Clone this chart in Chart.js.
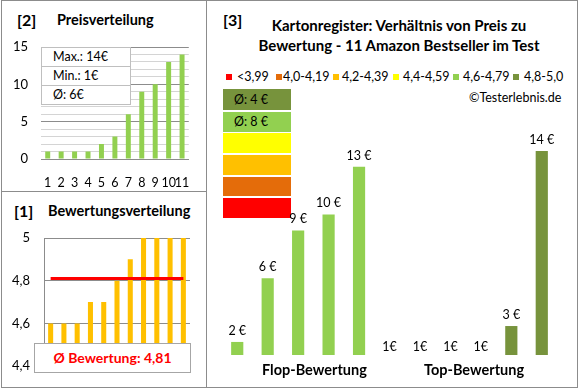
<!DOCTYPE html>
<html>
<head>
<meta charset="utf-8">
<script src="https://cdn.jsdelivr.net/npm/chart.js@4.4.1/dist/chart.umd.min.js"></script>
<style>
  body { margin: 0; width: 580px; height: 390px; background: #fff; font-family: Lato, sans-serif; color: #000; position: relative; overflow: hidden; }
  .abs { position: absolute; white-space: nowrap; }
  canvas { position: absolute; }
  .line { position: absolute; background: #8c8c8c; }
  .title { font-weight: bold; font-size: 14.5px; }
  .nr { font-weight: bold; font-size: 16px; }
  .statbox { position: absolute; left: 41px; top: 47px; width: 88px; background: #fff; border: 1px solid #bfbfbf; font-size: 12.5px; }
  .statbox div { height: 18px; line-height: 18px; padding-left: 11px; border-top: 1px solid #bfbfbf; }
  .statbox div:first-child { border-top: none; }
  .avgbox { position: absolute; left: 34px; top: 343px; width: 155px; height: 28px; line-height: 28px; background: #fff; border: 1px solid #a6a6a6; color: #ff0000; font-weight: bold; font-size: 14px; text-align: center; }
  .leg { position: absolute; top: 70px; font-size: 12.5px; line-height: 14px; white-space: nowrap; }
  .sq { position: absolute; width: 6px; height: 6px; top: 74px; }
  .block { position: absolute; left: 223px; width: 68px; font-size: 12.5px; padding-left: 11px; box-sizing: border-box; }
</style>
</head>
<body>
<!-- frame -->
<div class="line" style="left:1px;top:0;width:577px;height:1px"></div>
<div class="line" style="left:1px;top:387px;width:577px;height:1px"></div>
<div class="line" style="left:1px;top:0;width:1px;height:388px"></div>
<div class="line" style="left:577px;top:0;width:1px;height:388px"></div>
<div class="line" style="left:206px;top:0;width:1px;height:388px"></div>
<div class="line" style="left:1px;top:191px;width:205px;height:1px"></div>

<div class="abs nr" style="left:17px;top:10px">[2]</div>
<div class="abs title" style="left:57px;top:11px">Preisverteilung</div>
<div class="abs nr" style="left:14px;top:201px">[1]</div>
<div class="abs title" style="left:48px;top:202px">Bewertungsverteilung</div>
<div class="abs nr" style="left:223px;top:10px">[3]</div>
<div class="abs title" style="left:222px;width:354px;top:15px;text-align:center;line-height:20px;font-size:15px">Kartonregister: Verhältnis von Preis zu<br>Bewertung - 11 Amazon Bestseller im Test</div>
<div class="abs" style="left:469px;top:90px;font-size:12.5px">©Testerlebnis.de</div>

<div id="legend"></div>
<div id="blocks"></div>

<canvas id="preisChart" width="206" height="192" style="left:0;top:0"></canvas>
<canvas id="bewertungChart" width="206" height="196" style="left:0;top:192px"></canvas>
<canvas id="verhaeltnisChart" width="372" height="389" style="left:206px;top:0"></canvas>

<div class="statbox" id="statbox"></div>
<div class="avgbox" id="avgbox"></div>
<div class="abs title" style="left:262px;width:100px;top:361px;text-align:center">Flop-Bewertung</div>
<div class="abs title" style="left:424px;width:100px;top:361px;text-align:center">Top-Bewertung</div>

<script>
// Preisverteilung
const produktNr = ['1', '2', '3', '4', '5', '6', '7', '8', '9', '10', '11'];
const preise = [1, 1, 1, 1, 2, 3, 6, 9, 10, 13, 14];
const preisStatistik = ['Max.: 14€', 'Min.: 1€', 'Ø: 6€'];

// Bewertungsverteilung
const bewertungen = [4.6, 4.6, 4.6, 4.7, 4.7, 4.8, 4.9, 5, 5, 5, 5];
const bewertungSchnitt = 4.81;

// Verhältnis Preis zu Bewertung
const verhaeltnisPreise = [2, 6, 9, 10, 13, 1, 1, 1, 1, 3, 14];
const verhaeltnisBewertung = [4.6, 4.6, 4.6, 4.7, 4.7, 4.8, 4.9, 5, 5, 5, 5];
const klassen = ['<3,99', '4,0-4,19', '4,2-4,39', '4,4-4,59', '4,6-4,79', '4,8-5,0'];
const klassenGrenzen = [0, 4.0, 4.2, 4.4, 4.6, 4.8];
const schnittTexte = ['Ø: 4 €', 'Ø: 8 €'];

const klassenFarben = ['#ff0000', '#e46c0a', '#ffc000', '#ffff00', '#92d050', '#77933c'];

Chart.defaults.font.family = 'Lato';
Chart.defaults.font.size = 12;
Chart.defaults.color = '#000';
Chart.defaults.animation = false;

const komma = (v, d) => (Math.round(v * Math.pow(10, d)) / Math.pow(10, d)).toString().replace('.', ',');
const farbeFuer = r => {
  let i = 0;
  klassenGrenzen.forEach((g, k) => { if (r >= g - 1e-9) i = k; });
  return klassenFarben[i];
};

// legend row and colour stack (plain html)
const legPos = [[226, 237], [276, 283], [333, 342], [393, 403], [453, 463], [513, 524]];
document.getElementById('legend').innerHTML = klassen.map((k, i) =>
  `<div class="sq" style="left:${legPos[i][0]}px;background:${klassenFarben[i]}"></div>` +
  `<span class="leg" style="left:${legPos[i][1]}px">${k}</span>`).join('');

const blockTops = [89, 112, 133, 155, 177, 198];
const blockHeights = [21, 20, 20, 20, 19, 20];
document.getElementById('blocks').innerHTML = klassenFarben.slice().reverse().map((c, i) =>
  `<div class="block" style="top:${blockTops[i]}px;height:${blockHeights[i]}px;line-height:${blockHeights[i]}px;background:${c}">${schnittTexte[i] || ''}</div>`).join('');

document.getElementById('statbox').innerHTML = preisStatistik.map(t => `<div>${t}</div>`).join('');
document.getElementById('avgbox').textContent = 'Ø Bewertung: ' + komma(bewertungSchnitt, 2);

// [2] Preisverteilung
new Chart(document.getElementById('preisChart'), {
  type: 'bar',
  data: {
    labels: produktNr,
    datasets: [{ data: preise, backgroundColor: '#92d050', categoryPercentage: 1, barPercentage: 0.37 }]
  },
  options: {
    responsive: false,
    layout: { padding: { top: 47, right: 15, bottom: 3, left: 0 } },
    plugins: { legend: { display: false }, tooltip: { enabled: false } },
    scales: {
      x: {
        afterFit: s => { s.height = 30; },
        grid: { display: false, drawTicks: false },
        border: { color: '#8c8c8c' },
        ticks: { padding: 16, autoSkip: false, maxRotation: 0, font: { size: 12.5 } }
      },
      y: {
        min: 0, max: 15,
        afterFit: s => { s.width = 41; },
        border: { display: false },
        grid: { drawTicks: false, color: c => (c.tick.value % 5 === 0 ? '#8c8c8c' : '#d4d4d4') },
        ticks: { stepSize: 1, maxTicksLimit: 20, autoSkip: false, padding: 13, font: { size: 13 }, callback: v => (v % 5 === 0 ? v : '') }
      }
    }
  }
});

// [1] Bewertungsverteilung
new Chart(document.getElementById('bewertungChart'), {
  type: 'bar',
  data: {
    labels: produktNr,
    datasets: [
      { type: 'line', data: produktNr.map(() => bewertungSchnitt), borderColor: '#ff0000', borderWidth: 3, pointRadius: 0 },
      { data: bewertungen, backgroundColor: '#ffc000', categoryPercentage: 1, barPercentage: 0.38 }
    ]
  },
  options: {
    responsive: false,
    layout: { padding: { top: 46, right: 16, bottom: 15, left: 0 } },
    plugins: { legend: { display: false }, tooltip: { enabled: false } },
    scales: {
      x: { display: false },
      y: {
        min: 4.4, max: 5,
        afterFit: s => { s.width = 44; },
        border: { color: '#8c8c8c' },
        grid: { drawTicks: false, color: '#8c8c8c' },
        ticks: { stepSize: 0.2, padding: 14, font: { size: 13 }, callback: v => komma(v, 1) }
      }
    }
  }
});

// [3] Verhältnis Preis zu Bewertung
const preisLabels = {
  id: 'preisLabels',
  afterDatasetsDraw(chart) {
    const ctx = chart.ctx;
    const meta = chart.getDatasetMeta(0);
    ctx.save();
    ctx.font = '12.5px Lato';
    ctx.fillStyle = '#000';
    ctx.textAlign = 'center';
    ctx.textBaseline = 'bottom';
    meta.data.forEach((bar, i) => {
      const v = verhaeltnisPreise[i];
      const txt = v === 1 ? v + '€' : v + ' €';
      ctx.fillText(txt, bar.x, Math.min(bar.y, bar.base) - 5);
    });
    ctx.restore();
  }
};

new Chart(document.getElementById('verhaeltnisChart'), {
  type: 'bar',
  data: {
    labels: produktNr,
    datasets: [{
      data: verhaeltnisPreise,
      backgroundColor: verhaeltnisBewertung.map(farbeFuer),
      categoryPercentage: 1, barPercentage: 0.4
    }]
  },
  options: {
    responsive: false,
    layout: { padding: { top: 135, right: 21, bottom: 34, left: 16 } },
    plugins: { legend: { display: false }, tooltip: { enabled: false } },
    scales: {
      x: { display: false },
      y: { display: false, min: 1.18, max: 15 }
    }
  },
  plugins: [preisLabels]
});
</script>
</body>
</html>
